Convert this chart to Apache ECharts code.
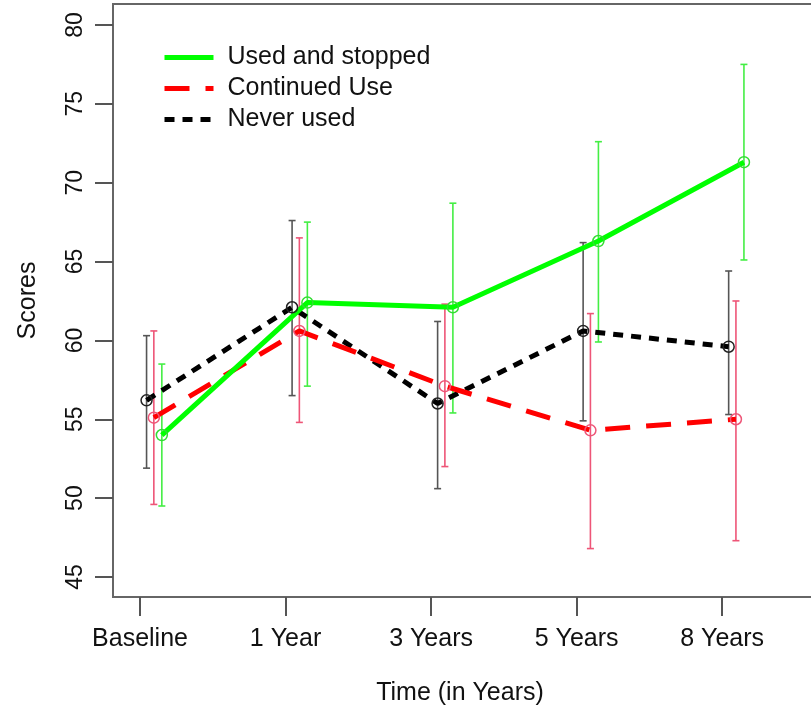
<!DOCTYPE html>
<html>
<head>
<meta charset="utf-8">
<script src="https://cdn.jsdelivr.net/npm/echarts@6/dist/echarts.min.js"></script>
<style>
  html, body { margin: 0; padding: 0; background: #fff; }
  #chart { width: 811px; height: 705px; }
</style>
</head>
<body>
<div id="chart"></div>
<script>
// time points and y ticks
const categories = ['Baseline', '1 Year', '3 Years', '5 Years', '8 Years'];
const yTicks = [45, 50, 55, 60, 65, 70, 75, 80];

// Used and stopped
const stoppedMean = [54.0, 62.4, 62.1, 66.3, 71.3];
const stoppedLow = [49.5, 57.1, 55.4, 59.9, 65.1];
const stoppedHigh = [58.5, 67.5, 68.7, 72.6, 77.5];

// Continued Use
const continuedMean = [55.1, 60.6, 57.1, 54.3, 55.0];
const continuedLow = [49.6, 54.8, 52.0, 46.8, 47.3];
const continuedHigh = [60.6, 66.5, 62.3, 61.7, 62.5];

// Never used
const neverMean = [56.2, 62.1, 56.0, 60.6, 59.6];
const neverLow = [51.9, 56.5, 50.6, 54.9, 55.3];
const neverHigh = [60.3, 67.6, 61.2, 66.2, 64.4];

const font = '"Liberation Sans", Arial, Helvetica, sans-serif';

const groups = [
  { name: 'Never used', line: '#000000', bar: '#555555', dot: '#222222', offset: 0.045,
    dash: [10, 8], mean: neverMean, low: neverLow, high: neverHigh },
  { name: 'Continued Use', line: '#ff0000', bar: '#ee5577', dot: '#ee5577', offset: 0.095,
    dash: [25, 16], mean: continuedMean, low: continuedLow, high: continuedHigh },
  { name: 'Used and stopped', line: '#00ff00', bar: '#44ee44', dot: '#33dd33', offset: 0.15,
    dash: 'solid', mean: stoppedMean, low: stoppedLow, high: stoppedHigh }
];

function errorBar(color) {
  return function (params, api) {
    const top = api.coord([api.value(0), api.value(2)]);
    const bot = api.coord([api.value(0), api.value(1)]);
    const w = 3.5;
    const style = { stroke: color, lineWidth: 1.6 };
    return {
      type: 'group',
      children: [
        { type: 'line', shape: { x1: top[0], y1: top[1], x2: bot[0], y2: bot[1] }, style: style },
        { type: 'line', shape: { x1: top[0] - w, y1: top[1], x2: top[0] + w, y2: top[1] }, style: style },
        { type: 'line', shape: { x1: bot[0] - w, y1: bot[1], x2: bot[0] + w, y2: bot[1] }, style: style }
      ]
    };
  };
}

const series = [];
groups.forEach(g => {
  series.push({
    type: 'custom',
    name: g.name + ' CI',
    silent: true,
    z: 2,
    renderItem: errorBar(g.bar),
    data: categories.map((c, i) => [i + 1 + g.offset, g.low[i], g.high[i]])
  });
});
groups.forEach(g => {
  series.push({
    type: 'line',
    name: g.name,
    z: 3,
    symbol: 'circle',
    symbolSize: 11,
    itemStyle: { color: 'rgba(0,0,0,0)', borderColor: g.dot, borderWidth: 1.5 },
    lineStyle: { color: g.line, width: 5, type: g.dash },
    data: categories.map((c, i) => [i + 1 + g.offset, g.mean[i]])
  });
});

const chart = echarts.init(document.getElementById('chart'));
chart.setOption({
  animation: false,
  backgroundColor: '#fff',
  grid: {
    left: 113, top: 4, height: 593, width: 720,
    outerBoundsMode: 'none', containLabel: false,
    show: true, borderColor: '#666', borderWidth: 2
  },
  legend: {
    data: ['Used and stopped', 'Continued Use', 'Never used'],
    orient: 'vertical',
    left: 157,
    top: 38,
    itemWidth: 49,
    itemHeight: 20,
    itemGap: 2,
    selectedMode: false,
    itemStyle: { color: 'rgba(0,0,0,0)', borderColor: 'rgba(0,0,0,0)', borderWidth: 0 },
    lineStyle: { width: 5 },
    textStyle: { fontFamily: font, fontSize: 25, color: '#111', padding: [0, 0, 0, 9], lineHeight: 29 }
  },
  xAxis: {
    type: 'value',
    min: 0.8144,
    max: 5.762,
    name: 'Time (in Years)',
    nameLocation: 'middle',
    nameGap: 84,
    nameTextStyle: { fontFamily: font, fontSize: 25, color: '#111', padding: [0, 26, 0, 0] },
    splitLine: { show: false },
    axisLine: { show: false },
    axisTick: { show: true, length: 19, lineStyle: { color: '#555', width: 2 }, customValues: [1, 2, 3, 4, 5] },
    axisLabel: {
      customValues: [1, 2, 3, 4, 5],
      formatter: v => categories[Math.round(v) - 1] || '',
      margin: 30,
      fontFamily: font, fontSize: 25, color: '#111'
    }
  },
  yAxis: {
    type: 'value',
    min: 43.73,
    max: 81.33,
    name: 'Scores',
    nameLocation: 'middle',
    nameGap: 72,
    nameTextStyle: { fontFamily: font, fontSize: 25, color: '#111' },
    splitLine: { show: false },
    axisLine: { show: false },
    axisTick: { show: true, length: 18, lineStyle: { color: '#555', width: 2 }, customValues: yTicks },
    axisLabel: {
      customValues: yTicks,
      rotate: 90,
      margin: 26,
      fontFamily: font, fontSize: 23, color: '#111'
    }
  },
  series: series
});
</script>
</body>
</html>
